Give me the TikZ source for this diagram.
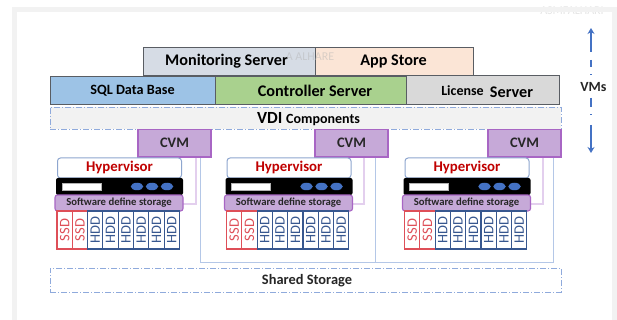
\documentclass[tikz,border=0pt]{standalone}
\usepackage{fontspec}
\setmainfont{Carlito}
\usetikzlibrary{arrows.meta,calc,shapes.geometric}
\definecolor{frameg}{HTML}{F2F2F2}
\definecolor{edgeg}{HTML}{595D63}
\definecolor{dashb}{HTML}{8FAADC}
\definecolor{cvmf}{HTML}{C6A9D8}
\definecolor{cvme}{HTML}{A866C4}
\definecolor{hypere}{HTML}{8EA6CF}
\definecolor{ssdc}{HTML}{DE4F58}
\definecolor{hddc}{HTML}{37578F}
\definecolor{redt}{HTML}{C00000}
\definecolor{busb}{HTML}{B4C7E7}
\definecolor{linkp}{HTML}{E3CFEE}
\definecolor{arrb}{HTML}{4472C4}
\definecolor{monf}{HTML}{D6DCE5}
\definecolor{appf}{HTML}{FBE5D6}
\definecolor{sqlf}{HTML}{9DC3E6}
\definecolor{ctlf}{HTML}{A9D18E}
\definecolor{licf}{HTML}{D9D9D9}
\tikzset{
  x=1pt,y=-1pt,
  bx/.style={anchor=north west,inner sep=0pt,outer sep=0pt,align=center,font=\bfseries},
  vmbox/.style={bx,draw=edgeg,line width=1pt,font=\bfseries\fontsize{16.2}{18}\selectfont},
  dashbox/.style={bx,draw=dashb,line width=.9pt,dash pattern=on 6pt off 2pt on 1pt off 2pt,fill=frameg},
  cvmbox/.style={bx,draw=cvme,fill=cvmf,line width=1.1pt,font=\bfseries\fontsize{14.5}{16}\selectfont,text=black!85},
  hyperbox/.style={bx,draw=hypere,fill=white,line width=1pt,rounded corners=3pt,minimum width=124pt,minimum height=20pt,text=redt,font=\bfseries\fontsize{14.8}{16}\selectfont},
  rackbox/.style={bx,fill=black,rounded corners=2pt,minimum width=127pt,minimum height=17pt},
  slotbox/.style={bx,fill=white,draw=white!70!black,line width=.5pt,minimum width=39pt,minimum height=7pt},
  ledmark/.style={ellipse,fill=arrb,inner sep=0pt,minimum width=12.5pt,minimum height=7.5pt},
  sdsbox/.style={bx,draw=cvme,fill=cvmf,line width=1.1pt,rounded corners=2.5pt,minimum width=128pt,minimum height=16pt,font=\bfseries\fontsize{10.7}{12}\selectfont,text=black!85},
  ssdbox/.style={bx,draw=ssdc,fill=white,line width=1.1pt,minimum width=15.3pt,minimum height=38pt},
  hddbox/.style={bx,draw=hddc,fill=white,line width=1.1pt,minimum width=15.3pt,minimum height=38pt},
  disktxt/.style={rotate=90,inner sep=0pt,font=\fontsize{14.5}{16}\selectfont},
  buslink/.style={draw=busb,line width=.8pt},
  purplelink/.style={draw=linkp,line width=1.2pt},
  vmline/.style={draw=arrb,line width=1.6pt},
  vmarrow/.style={vmline,-{Stealth[length=6pt,width=7pt]}},
  wmark/.style={inner sep=0pt,text=black!10,font=\fontsize{12}{14}\selectfont},
  wmarkb/.style={inner sep=0pt,text=black!30,text opacity=.45,font=\fontsize{12}{14}\selectfont}
}
\newcommand{\drawgroup}[3]{%
  % #1 id, #2 cvm x, #3 hypervisor x
  \node[cvmbox,minimum width=73pt,minimum height=27.5pt] (cvm#1) at (#2,129.5) {CVM};
  \node[hyperbox] (hyper#1) at (#3,158) {};
  \node[inner sep=0pt,text=redt,font=\bfseries\fontsize{14.8}{16}\selectfont] (hyperlabel#1) at (#3+62,167) {Hypervisor};
  \node[rackbox] (rack#1) at (#3-1.5,178) {};
  \node[slotbox] (slot#1) at (#3+4.5,183) {};
  \foreach \k/\dx in {a/79.5,b/94.5,c/109.5}{
    \node[ledmark] (led#1\k) at (#3+\dx,186.5) {};
  }
  \node[sdsbox] (sds#1) at (#3-2.5,195) {Software define storage};
  \foreach \n in {0,1}{
    \node[ssdbox] (disk#1\n) at (#3-0.5+15.3*\n,211) {};
    \node[disktxt,text=ssdc] at (disk#1\n.center) {SSD};
  }
  \foreach \n in {2,...,7}{
    \node[hddbox] (disk#1\n) at (#3-0.5+15.3*\n,211) {};
    \node[disktxt,text=hddc] at (disk#1\n.center) {HDD};
  }
}
\begin{document}
\begin{tikzpicture}
\useasboundingbox (0,0) rectangle (617,320);
\fill[white] (0,0) rectangle (617,320);
\fill[frameg] (12,7) rectangle (617,320);
\fill[white] (17,12) rectangle (612,320);
\node[wmark] (wm2) at (572,11) {ASMFALHARI};
\fill[frameg] (500,7) rectangle (617,12);

% top row
\node[vmbox,fill=monf,minimum width=173pt,minimum height=27.5pt] (mon) at (143,48) {};
\node[inner sep=0pt,font=\bfseries\fontsize{16.2}{18}\selectfont] (monlabel) at (226.5,61) {Monitoring Server};
\node[vmbox,line width=.8pt,fill=appf,minimum width=158pt,minimum height=28pt] (app) at (315.5,47) {};
\node[wmarkb] (wm1) at (310,57) {A ALHARE};
\node[inner sep=0pt,font=\bfseries\fontsize{16.2}{18}\selectfont] (applabel) at (393.5,61) {App Store};

% second row
\node[vmbox,fill=sqlf,minimum width=165.5pt,minimum height=27.5pt] (sql) at (50,77) {};
\node[vmbox,fill=ctlf,minimum width=191pt,minimum height=27.5pt] (ctl) at (215.5,77) {};
\node[vmbox,fill=licf,minimum width=153pt,minimum height=29pt] (lic) at (406,76) {};
\node[inner sep=0pt,font=\bfseries\fontsize{14.2}{16}\selectfont] (sqllabel) at (132.5,91) {SQL Data Base};
\node[inner sep=0pt,font=\bfseries\fontsize{16.2}{18}\selectfont] (ctllabel) at (315,91) {Controller Server};
\node[inner sep=0pt,font=\bfseries\fontsize{14}{16}\selectfont] (liclabel) at (462.5,91) {License};
\node[inner sep=0pt,font=\bfseries\fontsize{16.2}{18}\selectfont] (liclabelb) at (511.5,92) {Server};

% VDI strip
\node[dashbox,minimum width=511pt,minimum height=22pt] (vdi) at (50,107) {};
\node[inner sep=0pt] (vdilabel) at (308.5,119) {\bfseries\fontsize{17}{18}\selectfont VDI \fontsize{14}{16}\selectfont Components};

% shared storage
\node[dashbox,fill=white,minimum width=511pt,minimum height=24pt] (shared) at (50,268) {};
\node[inner sep=0pt,font=\bfseries\fontsize{14.4}{16}\selectfont,text=black!85] (sharedlabel) at (307,281) {Shared Storage};

% links
\path (138,129.5) ++(36.5,27.5) coordinate (c1s);
\path (315,129.5) ++(36.5,27.5) coordinate (c2s);
\path (488,129.5) ++(36.5,27.5) coordinate (c3s);
\coordinate (busA) at ($(c1s)+(25.5,105)$);
\coordinate (busB) at ($(c2s)+(23.5,105)$);
\coordinate (busC) at ($(c3s)+(28.5,105)$);
\draw[buslink] ($(c1s)+(25.5,0)$) -- (busA) -- (busC) -- ($(c3s)+(28.5,0)$);
\draw[buslink] ($(c2s)+(23.5,0)$) -- (busB);
\draw[purplelink] ($(c1s)+(21.5,0)$) -- ++(0,47) -- ++(-15,0);
\draw[purplelink] ($(c2s)+(12.5,0)$) -- ++(0,47) -- ++(-15,0);
\draw[purplelink] ($(c3s)+(18.5,0)$) -- ++(0,47) -- ++(-15,0);

% groups
\drawgroup{1}{138}{57.5}
\drawgroup{2}{315}{227}
\drawgroup{3}{488}{405}

% VMs indicator
\node[inner sep=0pt,font=\bfseries\fontsize{14}{16}\selectfont,text=black!85] (vms) at (593.5,87) {VMs};
\coordinate (ua) at (591,52); \coordinate (ub) at (591,28);
\coordinate (da) at (591,125); \coordinate (db) at (591,153);
\draw[vmarrow] (ua) -- (ub);
\draw[vmarrow] (da) -- (db);
\coordinate (d1a) at (591,60); \coordinate (d1b) at (591,67);
\coordinate (d2a) at (591,98); \coordinate (d2b) at (591,107);
\coordinate (d3a) at (591,74.5); \coordinate (d3b) at (591,75.5);
\coordinate (d4a) at (591,114.5); \coordinate (d4b) at (591,115.5);
\draw[vmline] (d1a) -- (d1b);
\draw[vmline] (d2a) -- (d2b);
\draw[vmline] (d3a) -- (d3b);
\draw[vmline] (d4a) -- (d4b);
\end{tikzpicture}
\end{document}
